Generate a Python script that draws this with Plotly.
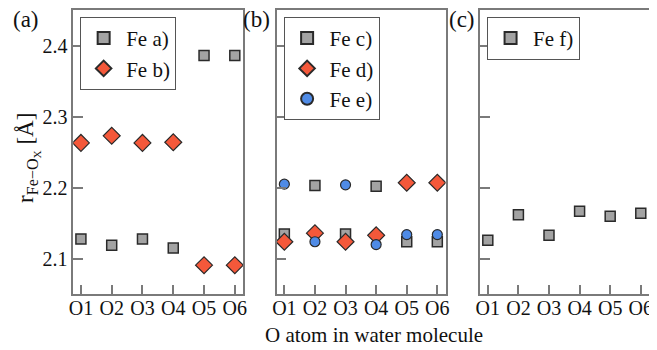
import plotly.graph_objects as go

atoms = ["O1", "O2", "O3", "O4", "O5", "O6"]
xpos = [1, 2, 3, 4, 5, 6]

fe_a = [2.128, 2.119, 2.128, 2.115, 2.386, 2.386]
fe_b = [2.263, 2.273, 2.263, 2.264, 2.091, 2.091]
fe_c = [2.135, 2.203, 2.135, 2.202, 2.124, 2.124]
fe_d = [2.124, 2.136, 2.124, 2.133, 2.207, 2.207]
fe_e = [2.205, 2.124, 2.204, 2.120, 2.134, 2.134]
fe_f = [2.126, 2.162, 2.133, 2.167, 2.160, 2.164]

y_ticks = [2.1, 2.2, 2.3, 2.4]

GRAY = "#a3a3a3"
RED = "#f4583a"
BLUE = "#4f8be6"
EDGE = "#2a2a2a"
AX = "#7a7a7a"
FONT = "Liberation Serif"

def sq(name, y, xa, ya, leg):
    return go.Scatter(x=xpos, y=y, mode="markers", name=name, xaxis=xa, yaxis=ya, legend=leg,
                      marker=dict(symbol="square", size=10, color=GRAY, line=dict(color=EDGE, width=1.5)))

def di(name, y, xa, ya, leg):
    return go.Scatter(x=xpos, y=y, mode="markers", name=name, xaxis=xa, yaxis=ya, legend=leg,
                      marker=dict(symbol="diamond", size=13, color=RED, line=dict(color=EDGE, width=1.2)))

def ci(name, y, xa, ya, leg):
    return go.Scatter(x=xpos, y=y, mode="markers", name=name, xaxis=xa, yaxis=ya, legend=leg,
                      marker=dict(symbol="circle", size=10, color=BLUE, line=dict(color=EDGE, width=1.2)))

fig = go.Figure()
fig.add_trace(sq("Fe a)", fe_a, "x", "y", "legend"))
fig.add_trace(di("Fe b)", fe_b, "x", "y", "legend"))
fig.add_trace(sq("Fe c)", fe_c, "x2", "y2", "legend2"))
fig.add_trace(di("Fe d)", fe_d, "x2", "y2", "legend2"))
fig.add_trace(ci("Fe e)", fe_e, "x2", "y2", "legend2"))
fig.add_trace(sq("Fe f)", fe_f, "x3", "y3", "legend3"))

# page has an 8px body margin, so pixel positions are shifted by OFF
OFF = 8
W, H = 649, 342
def px(x):
    return (x - OFF) / W
def py(y):
    return 1 - (y - OFF) / H

doms = [(70, 242), (276, 447), (482, 653)]
ydom = [py(294), py(8)]

common_x = dict(range=[0.75, 6.27], tickvals=xpos, ticktext=atoms, showline=True, linecolor=AX,
                linewidth=1.5, mirror=True, ticks="inside", ticklen=10, tickwidth=1.5, tickcolor=AX,
                showgrid=False, zeroline=False, ticklabelstandoff=-5,
                tickfont=dict(family=FONT, size=20, color="#111"))
common_y = dict(range=[2.05, 2.45], tickvals=y_ticks, showline=True, linecolor=AX, linewidth=1.5,
                mirror=True, ticks="inside", ticklen=10, tickwidth=1.5, tickcolor=AX, showgrid=False,
                zeroline=False, tickfont=dict(family=FONT, size=20, color="#111"), tickformat=".1f")

layout = dict(width=W, height=H, margin=dict(l=0, r=0, t=0, b=0), plot_bgcolor="white",
              paper_bgcolor="white", font=dict(family=FONT, size=18, color="#111"))
for i, (l, r) in enumerate(doms):
    sx = "" if i == 0 else str(i + 1)
    layout["xaxis" + sx] = dict(common_x, domain=[px(l), px(r)], anchor="y" + sx)
    ya = dict(common_y, domain=ydom, anchor="x" + sx)
    if i > 0:
        ya["showticklabels"] = False
        ya["matches"] = "y"
    layout["yaxis" + sx] = ya

legs = [(77, 15), (283, 15), (489, 15)]
for i, (lx, ly) in enumerate(legs):
    key = "legend" if i == 0 else "legend" + str(i + 1)
    layout[key] = dict(x=px(lx), y=py(ly), xanchor="left", yanchor="top", bgcolor="white",
                       bordercolor="#555", borderwidth=1, font=dict(family=FONT, size=21, color="#111"),
                       itemsizing="constant", itemwidth=35, tracegroupgap=0)

fig.update_layout(**layout)

anns = [
    dict(text="(a)", x=7, y=3),
    dict(text="(b)", x=240, y=3),
    dict(text="(c)", x=448, y=3),
]
for a in anns:
    fig.add_annotation(text=a["text"], x=px(a["x"]), y=py(a["y"]), xref="paper", yref="paper",
                       xanchor="left", yanchor="top", showarrow=False,
                       font=dict(family=FONT, size=23, color="#111"))
fig.add_annotation(text="O atom in water molecule", x=px(375), y=py(335),
                   xref="paper", yref="paper", xanchor="center", yanchor="middle", showarrow=False,
                   font=dict(family=FONT, size=21, color="#111"))
fig.add_annotation(text="r<sub>Fe−O<sub>X</sub></sub> [Å]", x=px(24), y=py(157), xref="paper",
                   yref="paper", xanchor="center", yanchor="middle", textangle=-90, showarrow=False,
                   font=dict(family=FONT, size=23, color="#111"))

fig.write_html("out.html")
